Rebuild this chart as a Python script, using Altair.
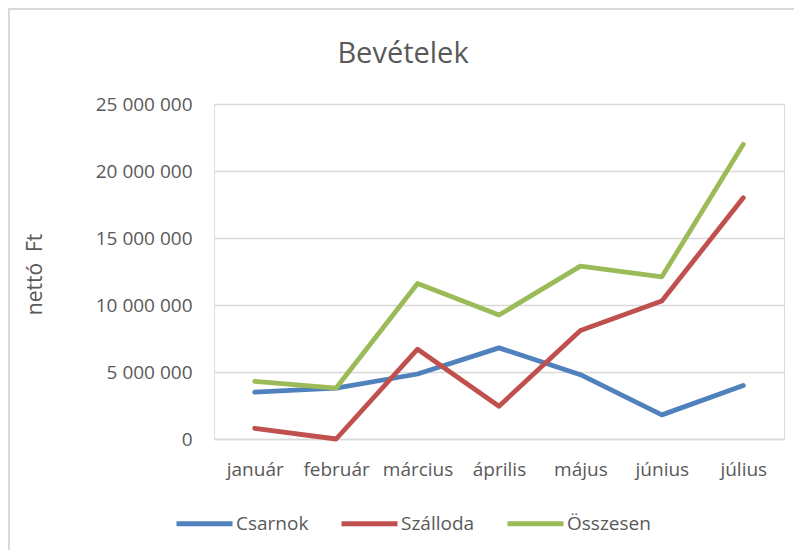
import altair as alt
import pandas as pd

months = ["január", "február", "március", "április", "május", "június", "július"]
series_names = ["Csarnok", "Szálloda", "Összesen"]
csarnok = [3500000, 3800000, 4850000, 6800000, 4800000, 1800000, 4000000]
szalloda = [800000, 0, 6700000, 2450000, 8100000, 10300000, 18000000]
osszesen = [4300000, 3800000, 11600000, 9250000, 12900000, 12100000, 22000000]
y_ticks = [0, 5000000, 10000000, 15000000, 20000000, 25000000]
colors = ["#4f81bd", "#c0504d", "#9bbb59"]

rows = []
for name, vals in zip(series_names, [csarnok, szalloda, osszesen]):
    for m, v in zip(months, vals):
        rows.append({"honap": m, "sorozat": name, "ertek": v})
df = pd.DataFrame(rows)

FONT = "Open Sans"
GREY = "#595959"

lines = alt.Chart(df).mark_line(strokeWidth=4.8, strokeCap="round", strokeJoin="round").encode(
    x=alt.X("honap:N", sort=months, title=None,
            axis=alt.Axis(labelAngle=0, ticks=False, grid=False, domainColor="#d9d9d9",
                          domainWidth=1.5, labelPadding=21, labelFontSize=19,
                          labelColor=GREY, labelFont=FONT)),
    y=alt.Y("ertek:Q", title="nettó\u00a0 Ft",
            scale=alt.Scale(domain=[0, 25000000], nice=False),
            axis=alt.Axis(values=y_ticks, format=",d", ticks=False, domain=False,
                          gridColor="#d9d9d9", gridWidth=1.5, labelPadding=22,
                          labelFontSize=19, labelColor=GREY, labelFont=FONT,
                          titleFont=FONT, titleFontSize=21, titleColor=GREY,
                          titleFontWeight="normal", titleAngle=-90,
                          titleX=-179, titleY=170, titleAlign="center",
                          titleBaseline="middle")),
    color=alt.Color("sorozat:N", sort=series_names,
                    scale=alt.Scale(domain=series_names, range=colors),
                    legend=alt.Legend(title=None, orient="none", direction="horizontal",
                                      legendX=-40, legendY=389,
                                      symbolType="stroke", symbolStrokeWidth=5,
                                      symbolSize=3136, labelFontSize=19,
                                      labelColor=GREY, labelFont=FONT,
                                      labelOffset=1, columnPadding=22)),
    detail="sorozat:N",
)

border = alt.Chart(pd.DataFrame({"a": [1]})).mark_rect(
    fill=None, stroke="#d9d9d9", strokeWidth=2
).encode(
    x=alt.value(-205), x2=alt.value(900), y=alt.value(-95), y2=alt.value(700)
)

chart = alt.layer(border, lines).properties(
    width=570, height=335,
    autosize=alt.AutoSizeParams(type="none"),
    padding={"left": 206, "top": 96, "right": 10, "bottom": 111},
    title=alt.TitleParams("Bevételek", fontSize=29, font=FONT, color=GREY,
                          fontWeight="normal", anchor="middle", dx=-96,
                          offset=-84, baseline="alphabetic"),
).configure_view(stroke=None).configure(
    locale={"number": {"decimal": ",", "thousands": "\u00a0", "grouping": [3],
                       "currency": ["", " Ft"]}}
)

chart.save("out.html", embed_options={"renderer": "svg", "actions": False})
